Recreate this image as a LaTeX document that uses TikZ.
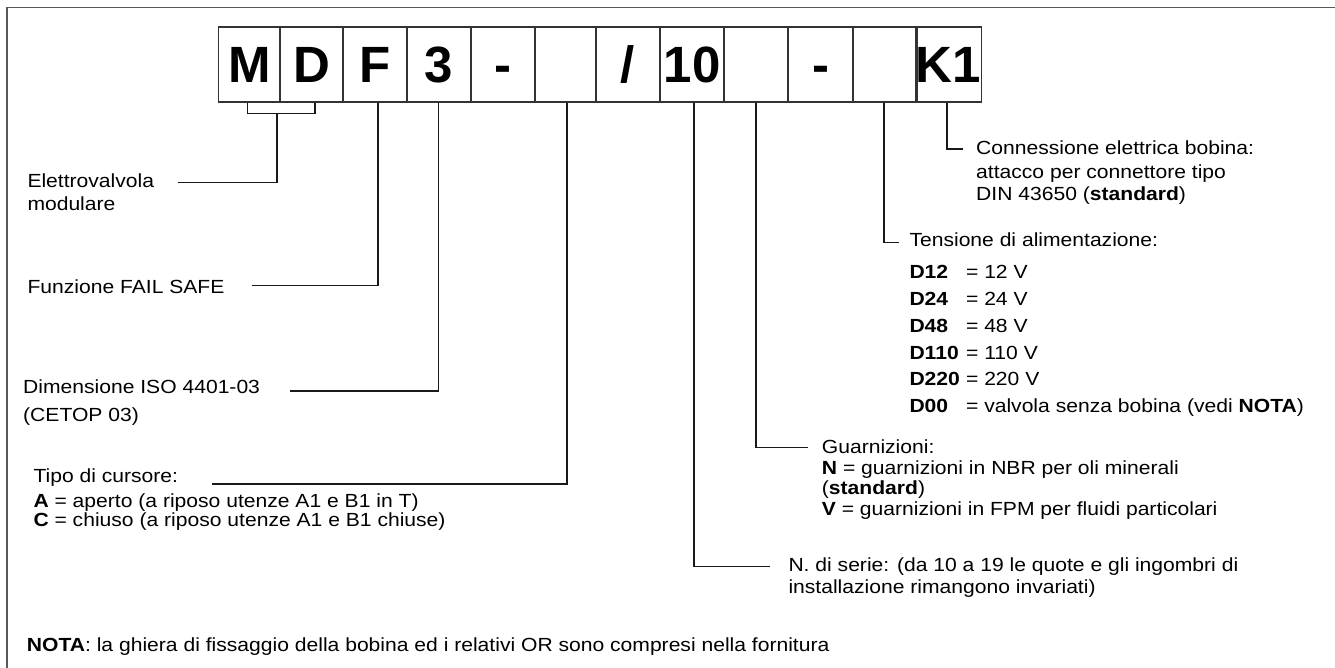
\documentclass[tikz,border=0pt]{standalone}
\usepackage{fontspec}
\setmainfont{Liberation Sans}
\newfontfamily\lblfont{Liberation Sans}[FakeStretch=1.11]
\begin{document}
\begin{tikzpicture}[x=1pt,y=-1pt,
  cell/.style={draw=black!80, line width=1.2pt, minimum width=#1,
    minimum height=75pt, inner sep=0pt, text height=36.6pt, text depth=0pt,
    font=\fontsize{51}{51}\selectfont\bfseries},
  cell/.default=63.5pt,
  lead/.style={black!90, line width=1.2pt},
  frame/.style={black!65, line width=1.6pt},
  lbl/.style={anchor=base west, inner sep=0pt, font=\lblfont\fontsize{19}{22}\selectfont}]
\useasboundingbox (0,0) rectangle (1335,668);

% outer frame (top and left edges)
\draw[frame] (6.7,668) -- (6.7,7.4) -- (1335,7.4);

% ordering code cells
\node[cell=61.5pt] (c1)  at (249.25,64.5) {M};
\node[cell=63pt]   (c2)  at (311.5,64.5)  {D};
\node[cell=64pt]   (c3)  at (375,64.5)    {F};
\node[cell=64pt]   (c4)  at (439,64.5)    {3};
\node[cell=64pt]   (c5)  at (503,64.5)    {-};
\node[cell=61pt]   (c6)  at (565.5,64.5)  {};
\node[cell=64pt]   (c7)  at (628,64.5)    {/};
\node[cell=64pt]   (c8)  at (692,64.5)    {10};
\node[cell=64pt]   (c9)  at (756,64.5)    {};
\node[cell=65pt]   (c10) at (820.5,64.5)  {-};
\node[cell=64pt]   (c11) at (885,64.5)    {};
\node[cell=63pt]   (c12) at (948.5,64.5)  {K1};

% left-hand descriptions
\node[lbl] (e1) at (27.3,187.3) {Elettrovalvola};
\node[lbl] (e2) at (27.3,211) {modulare};
\node[lbl] (f1) at (27.3,293.3) {Funzione FAIL SAFE};
\node[lbl] (d1) at (23,393.3) {Dimensione ISO 4401-03};
\node[lbl] (d2) at (23,421.5) {(CETOP 03)};
\node[lbl] (t1) at (33.3,482.5) {Tipo di cursore:};
\node[lbl] (t2) at (33.3,507.5) {\textbf{A} = aperto (a riposo utenze A1 e B1 in T)};
\node[lbl] (t3) at (33.3,526.5) {\textbf{C} = chiuso (a riposo utenze A1 e B1 chiuse)};

% right-hand descriptions
\node[lbl] (k1) at (976,155) {Connessione elettrica bobina:};
\node[lbl] (k2) at (976,178.3) {attacco per connettore tipo};
\node[lbl] (k3) at (976,200.7) {DIN 43650 (\textbf{standard})};
\node[lbl] (v0) at (909.3,246.7) {Tensione di alimentazione:};
\node[lbl] (v1) at (909.3,279) {\makebox[56.6pt][l]{\textbf{D12}}= 12 V};
\node[lbl] (v2) at (909.3,305.7) {\makebox[56.6pt][l]{\textbf{D24}}= 24 V};
\node[lbl] (v3) at (909.3,332.3) {\makebox[56.6pt][l]{\textbf{D48}}= 48 V};
\node[lbl] (v4) at (909.3,359) {\makebox[56.6pt][l]{\textbf{D110}}= 110 V};
\node[lbl] (v5) at (909.3,385.7) {\makebox[56.6pt][l]{\textbf{D220}}= 220 V};
\node[lbl] (v6) at (909.3,412.3) {\makebox[56.6pt][l]{\textbf{D00}}= valvola senza bobina (vedi \textbf{NOTA})};
\node[lbl] (g1) at (821.7,453.3) {Guarnizioni:};
\node[lbl] (g2) at (821.7,474.3) {\textbf{N} = guarnizioni in NBR per oli minerali};
\node[lbl] (g3) at (821.7,494.5) {(\textbf{standard})};
\node[lbl] (g4) at (821.7,515) {\textbf{V} = guarnizioni in FPM per fluidi particolari};
\node[lbl] (s1) at (788.3,571.7) {N. di serie: (da 10 a 19 le quote e gli ingombri di};
\node[lbl] (s2) at (788.3,593.3) {installazione rimangono invariati)};

% note
\node[lbl] (nota) at (26.7,651.7) {\textbf{NOTA}: la ghiera di fissaggio della bobina ed i relativi OR sono compresi nella fornitura};

% leader end points
\coordinate (mdj) at (277,113.7);
\coordinate (le) at (178.3,182.7);
\coordinate (lf) at (252.3,285.7);
\coordinate (ld) at (290,391);
\coordinate (lt) at (212,484);
\coordinate (ls) at (770,566.7);
\coordinate (lg) at (808,447.3);
\coordinate (lv) at (899,242.7);
\coordinate (lk) at (963,149);

% leaders
\draw[lead] ([xshift=-1.5pt]c1.south) -- ([xshift=-1.5pt]c1.south |- mdj)
  -- ([xshift=3.5pt]c2.south |- mdj) -- ([xshift=3.5pt]c2.south);
\draw[lead] (mdj) |- (le);
\draw[lead] ([xshift=3pt]c3.south) |- (lf);
\draw[lead] ([xshift=-0.7pt]c4.south) |- (ld);
\draw[lead] ([xshift=1.5pt]c6.south) |- (lt);
\draw[lead] ([xshift=2pt]c8.south) |- (ls);
\draw[lead] (c9.south) |- (lg);
\draw[lead] ([xshift=-1pt]c11.south) |- (lv);
\draw[lead] ([xshift=-1.5pt]c12.south) |- (lk);
\end{tikzpicture}
\end{document}
